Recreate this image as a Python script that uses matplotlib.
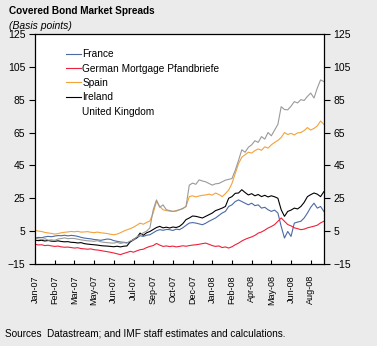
import matplotlib
matplotlib.use("Agg")
import matplotlib.pyplot as plt
import matplotlib.dates as mdates
from matplotlib.lines import Line2D
import pandas as pd

# Weekly covered bond spreads, basis points
dates = pd.date_range("2007-01-01", periods=89, freq="7D")

france = [0.8, 1.2, 1.0, 1.5, 1.8, 1.6,
          2.0, 2.3, 2.2, 2.5, 2.1,
          2.4, 2.2, 1.8, 1.2, 0.8,
          0.5, 0.3, -0.1, -0.3, -0.6,
          -0.2, 0.2, 0.0, -0.8, -1.2,
          -1.6, -1.8, -2.0, -1.5, -0.5,
          0.8, 2.2, 1.8, 2.5, 2.8,
          4.0, 5.2, 5.9, 5.5, 6.0,
          5.9, 5.4, 6.2, 5.9, 7.0,
          8.5, 9.9, 10.2, 9.9, 9.4,
          8.9, 9.8, 11.0, 12.0, 13.0,
          14.5, 16.0, 17.0, 20.0, 21.0,
          23.0, 24.0, 23.0, 22.0, 21.0,
          22.0, 20.5, 21.0, 19.0, 19.5,
          18.0, 17.0, 17.8, 16.0, 7.9,
          0.8, 4.8, 1.8, 9.9, 10.5,
          11.0, 13.0, 16.0, 19.5, 22.0,
          19.0, 20.0, 17.0]

germany = [-3.0, -3.4, -3.3, -3.8, -3.6, -4.0,
           -4.3, -4.1, -4.6, -4.8, -4.7,
           -5.0, -5.3, -5.1, -5.6, -5.8,
           -6.0, -5.8, -6.3, -6.5, -6.8,
           -7.2, -7.5, -7.9, -8.3, -8.8,
           -9.3, -8.6, -8.0, -7.3, -7.8,
           -7.0, -6.3, -6.0, -5.0, -4.3,
           -3.8, -2.5, -3.5, -4.3, -4.0,
           -4.4, -4.1, -4.6, -4.3, -3.9,
           -4.2, -3.8, -3.5, -3.3, -3.0,
           -2.6, -2.3, -3.0, -3.8, -4.3,
           -4.0, -5.0, -4.6, -5.3, -4.5,
           -3.3, -2.3, -1.0, 0.0, 0.8,
           1.5, 2.4, 3.8, 4.5, 5.6,
           6.9, 7.8, 9.0, 11.0, 13.0,
           11.0, 9.0, 8.2, 7.0, 6.5,
           5.9, 6.2, 7.0, 7.5, 8.0,
           8.6, 10.0, 11.0]

spain = [5.5, 5.0, 4.8, 4.2, 3.9, 3.6,
         3.2, 3.5, 4.0, 4.3, 4.5,
         4.8, 4.6, 4.9, 4.4, 4.5,
         4.7, 4.3, 4.1, 4.4, 4.0,
         3.8, 3.5, 3.1, 2.8, 3.2,
         4.0, 5.0, 5.8, 6.5, 7.4,
         8.6, 9.9, 9.2, 10.3, 11.2,
         16.0, 23.0, 20.0, 18.0, 17.5,
         17.2, 17.0, 17.5, 18.0, 18.6,
         20.0, 26.0, 26.5, 25.8, 26.4,
         26.8, 27.0, 27.5, 26.9, 28.2,
         27.3, 26.0, 27.8, 30.0, 34.0,
         40.0, 46.0, 50.0, 51.5, 53.0,
         52.5, 54.0, 55.0, 54.2, 56.3,
         55.5, 57.5, 59.0, 60.2, 62.0,
         65.0, 63.8, 64.5, 63.5, 64.8,
         65.0, 66.2, 68.0, 66.5, 67.5,
         69.0, 72.0, 70.0]

ireland = [-0.5, -0.8, -0.6, -1.0, -0.7, -1.1,
           -1.2, -0.9, -1.3, -1.5, -1.4,
           -1.8, -1.9, -2.2, -2.0, -2.6,
           -2.9, -3.1, -3.3, -3.5, -3.8,
           -4.0, -4.1, -4.3, -4.5, -4.2,
           -4.6, -4.2, -4.0, -1.5, 0.0,
           1.0, 3.8, 2.5, 4.0, 4.8,
           6.0, 7.2, 7.9, 7.0, 7.4,
           6.9, 7.5, 7.2, 7.9, 9.5,
           12.0, 13.0, 14.2, 14.0, 13.5,
           13.0, 14.0, 15.0, 16.0, 17.5,
           18.2, 19.0, 20.0, 25.0, 26.0,
           28.0, 28.2, 30.2, 28.5, 27.0,
           27.8, 26.5, 27.3, 26.0, 26.8,
           25.8, 26.5, 25.9, 25.0, 18.0,
           14.0, 17.0, 17.8, 19.0, 18.5,
           20.0, 22.5, 26.0, 27.2, 28.2,
           27.5, 26.0, 29.0]

uk = [0.8, 0.3, -0.2, 0.4, -0.5, -0.3,
      -0.6, 0.2, 0.5, 0.9, 0.4,
      0.6, 0.5, 0.1, -0.3, -0.6,
      -0.9, -1.0, -1.2, -0.8, -1.5,
      -1.8, -2.0, -2.2, -2.3, -1.8,
      -2.5, -2.0, -2.3, -1.0, -0.2,
      1.5, 2.5, 4.0, 5.0, 7.0,
      18.0, 24.0, 19.5, 21.0, 18.0,
      17.5, 17.0, 17.2, 18.0, 18.8,
      20.0, 33.0, 34.2, 33.5, 36.2,
      35.5, 35.0, 34.0, 33.0, 33.8,
      34.0, 35.0, 36.0, 36.5, 37.0,
      42.0, 48.0, 54.5, 53.0, 56.0,
      57.5, 60.0, 59.0, 62.5, 61.0,
      65.0, 63.0, 66.5, 70.0, 80.7,
      79.0, 78.8, 81.0, 83.8, 83.0,
      85.0, 84.5, 87.0, 89.0, 86.0,
      92.0, 97.0, 96.0]

series_names = ["France", "German Mortgage Pfandbriefe", "Spain", "Ireland",
                "United Kingdom"]
series_values = [france, germany, spain, ireland, uk]
series_colors = ["#4a6aa5", "#f0203a", "#f4a23a", "#000000", "#9a9a9a"]

y_ticks = [-15, 5, 25, 45, 65, 85, 105, 125]

bg = "#ebebeb"
plt.rcParams["font.family"] = ["Liberation Sans", "DejaVu Sans"]

fig = plt.figure(figsize=(3.77, 3.46), dpi=100, facecolor=bg)
ax = fig.add_axes([0.093, 0.237, 0.766, 0.665])
ax.set_facecolor("white")

for name, vals, col in zip(series_names, series_values, series_colors):
    ax.plot(dates, vals, color=col, lw=0.8, label=name)

ax.set_ylim(-15, 125)
ax.set_yticks(y_ticks)
ax.set_xlim(dates[0], dates[-1])
tick_dates = pd.date_range(dates[0], dates[-1], freq="42D")
ax.set_xticks(tick_dates)
ax.xaxis.set_major_formatter(mdates.DateFormatter("%b-%y"))

ax.tick_params(axis="x", direction="in", length=3, width=0.8, labelsize=6.5,
               labelrotation=90, pad=8)
ax.tick_params(axis="y", direction="out", length=4, width=0.8, labelsize=7.5,
               left=True, right=True, labelleft=True, labelright=True, pad=3)
for s in ax.spines.values():
    s.set_linewidth(0.9)

handles = [Line2D([], [], color=c, lw=0.8) for c in series_colors[:4]]
handles.append(Line2D([], [], color="none", lw=0.8))
ax.legend(handles, series_names, loc="upper left", bbox_to_anchor=(0.093, 0.95),
          frameon=False, fontsize=7.3, handlelength=1.5, handletextpad=0.1,
          labelspacing=0.42, borderaxespad=0)

fig.text(0.024, 0.982, "Covered Bond Market Spreads", fontsize=7.2,
         fontweight="bold", va="top", ha="left")
fig.text(0.024, 0.94, "(Basis points)", fontsize=7.5, style="italic",
         va="top", ha="left")
fig.text(0.013, 0.037, "Sources  Datastream; and IMF staff estimates and calculations.",
         fontsize=7.2, va="center", ha="left")

fig.savefig("out.png", dpi=100, facecolor=bg)
